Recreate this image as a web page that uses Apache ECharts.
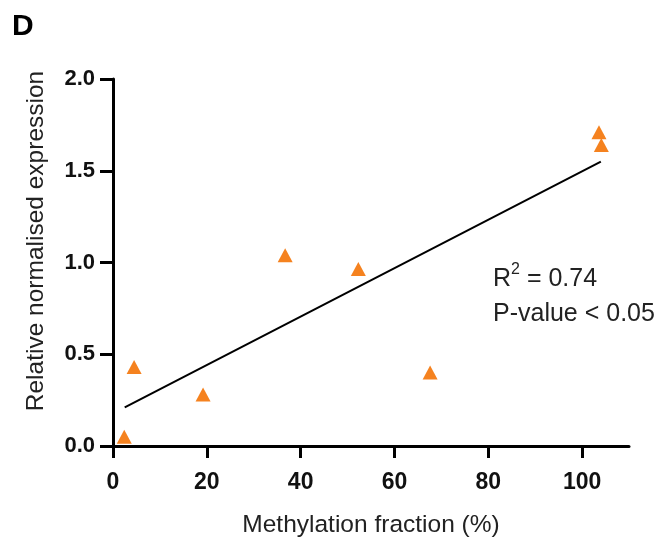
<!DOCTYPE html>
<html><head><meta charset="utf-8">
<script src="https://cdn.jsdelivr.net/npm/echarts@6/dist/echarts.min.js"></script>
<style>html,body{margin:0;padding:0;background:#fff}#c{width:659px;height:540px}</style>
</head><body><div id="c"></div>
<script>
const methylation = [2.4, 4.5, 19.2, 36.7, 52.3, 67.6, 103.6, 104.1];
const expression  = [0.05, 0.43, 0.28, 1.04, 0.965, 0.40, 1.71, 1.64];
const fitX = [2.5, 104];
const fitY = [0.21, 1.55];
const xTicks = [0, 20, 40, 60, 80, 100];
const yTicks = [0, 0.5, 1.0, 1.5, 2.0];

const pts = methylation.map((x, i) => [x, expression[i]]);
const fit = fitX.map((x, i) => [x, fitY[i]]);
const F = '"Liberation Sans", Arial, sans-serif';

const chart = echarts.init(document.getElementById('c'));
chart.setOption({
  animation: false,
  backgroundColor: '#fff',
  grid: {left: 113, right: 30, top: 79, bottom: 94, containLabel: false, outerBoundsMode: 'none'},
  xAxis: {
    type: 'value', min: 0, max: 110, interval: 20,
    name: 'Methylation fraction (%)', nameLocation: 'middle', nameGap: 67,
    nameTextStyle: {fontFamily: F, fontSize: 24.5, color: '#222'},
    axisLine: {show: true, onZero: false, lineStyle: {color: '#000', width: 3}},
    axisTick: {show: true, length: 12, lineStyle: {color: '#000', width: 3}, customValues: xTicks},
    axisLabel: {customValues: xTicks, margin: 25, fontFamily: F, fontWeight: 'bold', fontSize: 23, color: '#111'},
    splitLine: {show: false}
  },
  yAxis: {
    type: 'value', min: 0, max: 2, interval: 0.5,
    axisLine: {show: true, lineStyle: {color: '#000', width: 3}},
    axisTick: {show: true, length: 13, lineStyle: {color: '#000', width: 3}, customValues: yTicks},
    axisLabel: {customValues: yTicks, margin: 18, fontFamily: F, fontWeight: 'bold', fontSize: 22, color: '#111',
      formatter: v => v.toFixed(1)},
    splitLine: {show: false}
  },
  series: [
    {type: 'line', data: fit, symbol: 'none', lineStyle: {color: '#000', width: 2}, z: 2},
    {type: 'scatter', data: pts, symbol: 'triangle', symbolSize: [15, 14],
     itemStyle: {color: '#F5821F', opacity: 1}, z: 3}
  ],
  graphic: [
    {type: 'text', left: 12, top: 12, style: {text: 'D', fontFamily: F, fontWeight: 'bold', fontSize: 30, fill: '#000'}},
    {type: 'text', x: 36, y: 241, rotation: Math.PI / 2, style: {
      text: 'Relative normalised expression', fontFamily: F, fontSize: 24.5, fill: '#222',
      align: 'center', verticalAlign: 'middle'}},
    {type: 'text', left: 493, top: 262, style: {
      text: '{a|R}{s|2}{a| = 0.74}',
      rich: {a: {fontFamily: F, fontSize: 25, fill: '#222', verticalAlign: 'bottom', lineHeight: 30},
             s: {fontFamily: F, fontSize: 16, fill: '#222', verticalAlign: 'top', lineHeight: 30, padding: [0,0,13,0]}}
    }},
    {type: 'text', left: 493, top: 302, style: {text: 'P-value < 0.05', fontFamily: F, fontSize: 25, fill: '#222'}}
  ]
});
</script></body></html>
